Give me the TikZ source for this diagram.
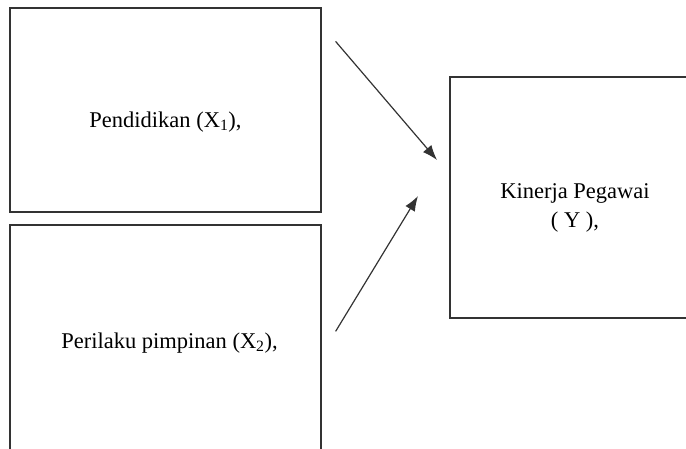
\documentclass[tikz,border=0pt]{standalone}
\usepackage{fontspec}
\setmainfont{Liberation Serif}
\usetikzlibrary{arrows.meta}
\usetikzlibrary{calc}

\tikzset{
  varbox/.style = {draw = black!80, line width = 1.2pt, inner sep = 0pt},
  vartext/.style = {font = \fontsize{22.5}{29}\selectfont, align = center,
    inner sep = 0pt},
  influence/.style = {draw = black!80, line width = 1.2pt,
    -{Latex[length = 15pt, width = 11pt]}}
}

\begin{document}
\begin{tikzpicture}[x = 1pt, y = -1pt]
  \clip (0, 0) rectangle (686, 448);
  \useasboundingbox (0, 0) rectangle (686, 448);

  % boxes
  \node[varbox, minimum width = 311pt, minimum height = 204pt]
  (pend) at (165.5, 110) {};
  \node[varbox, minimum width = 311pt, minimum height = 255pt]
  (pimp) at (165.5, 352.5) {};
  \node[varbox, minimum width = 250pt, minimum height = 241pt]
  (kin) at (575, 197.5) {};

  % texts
  \node[vartext, anchor = base] (pendtext) at ($(pend.north) + (0, 120)$)
  {Pendidikan (X\textsubscript{1}),};
  \node[vartext, anchor = base] (pimptext) at ($(pimp.north) + (4, 124)$)
  {Perilaku pimpinan (X\textsubscript{2}),};
  \node[vartext] (kintext) at ($(kin.center) + (0, 10)$)
  {Kinerja Pegawai\\( Y ),};

  \coordinate (tipA) at (437, 160);
  \coordinate (tipB) at (418, 196);

  \draw[influence] ($(pend.north east) + (14, 34)$) -- (tipA);
  \draw[influence] ($(pimp.north east) + (14, 107)$) -- (tipB);
\end{tikzpicture}
\end{document}
